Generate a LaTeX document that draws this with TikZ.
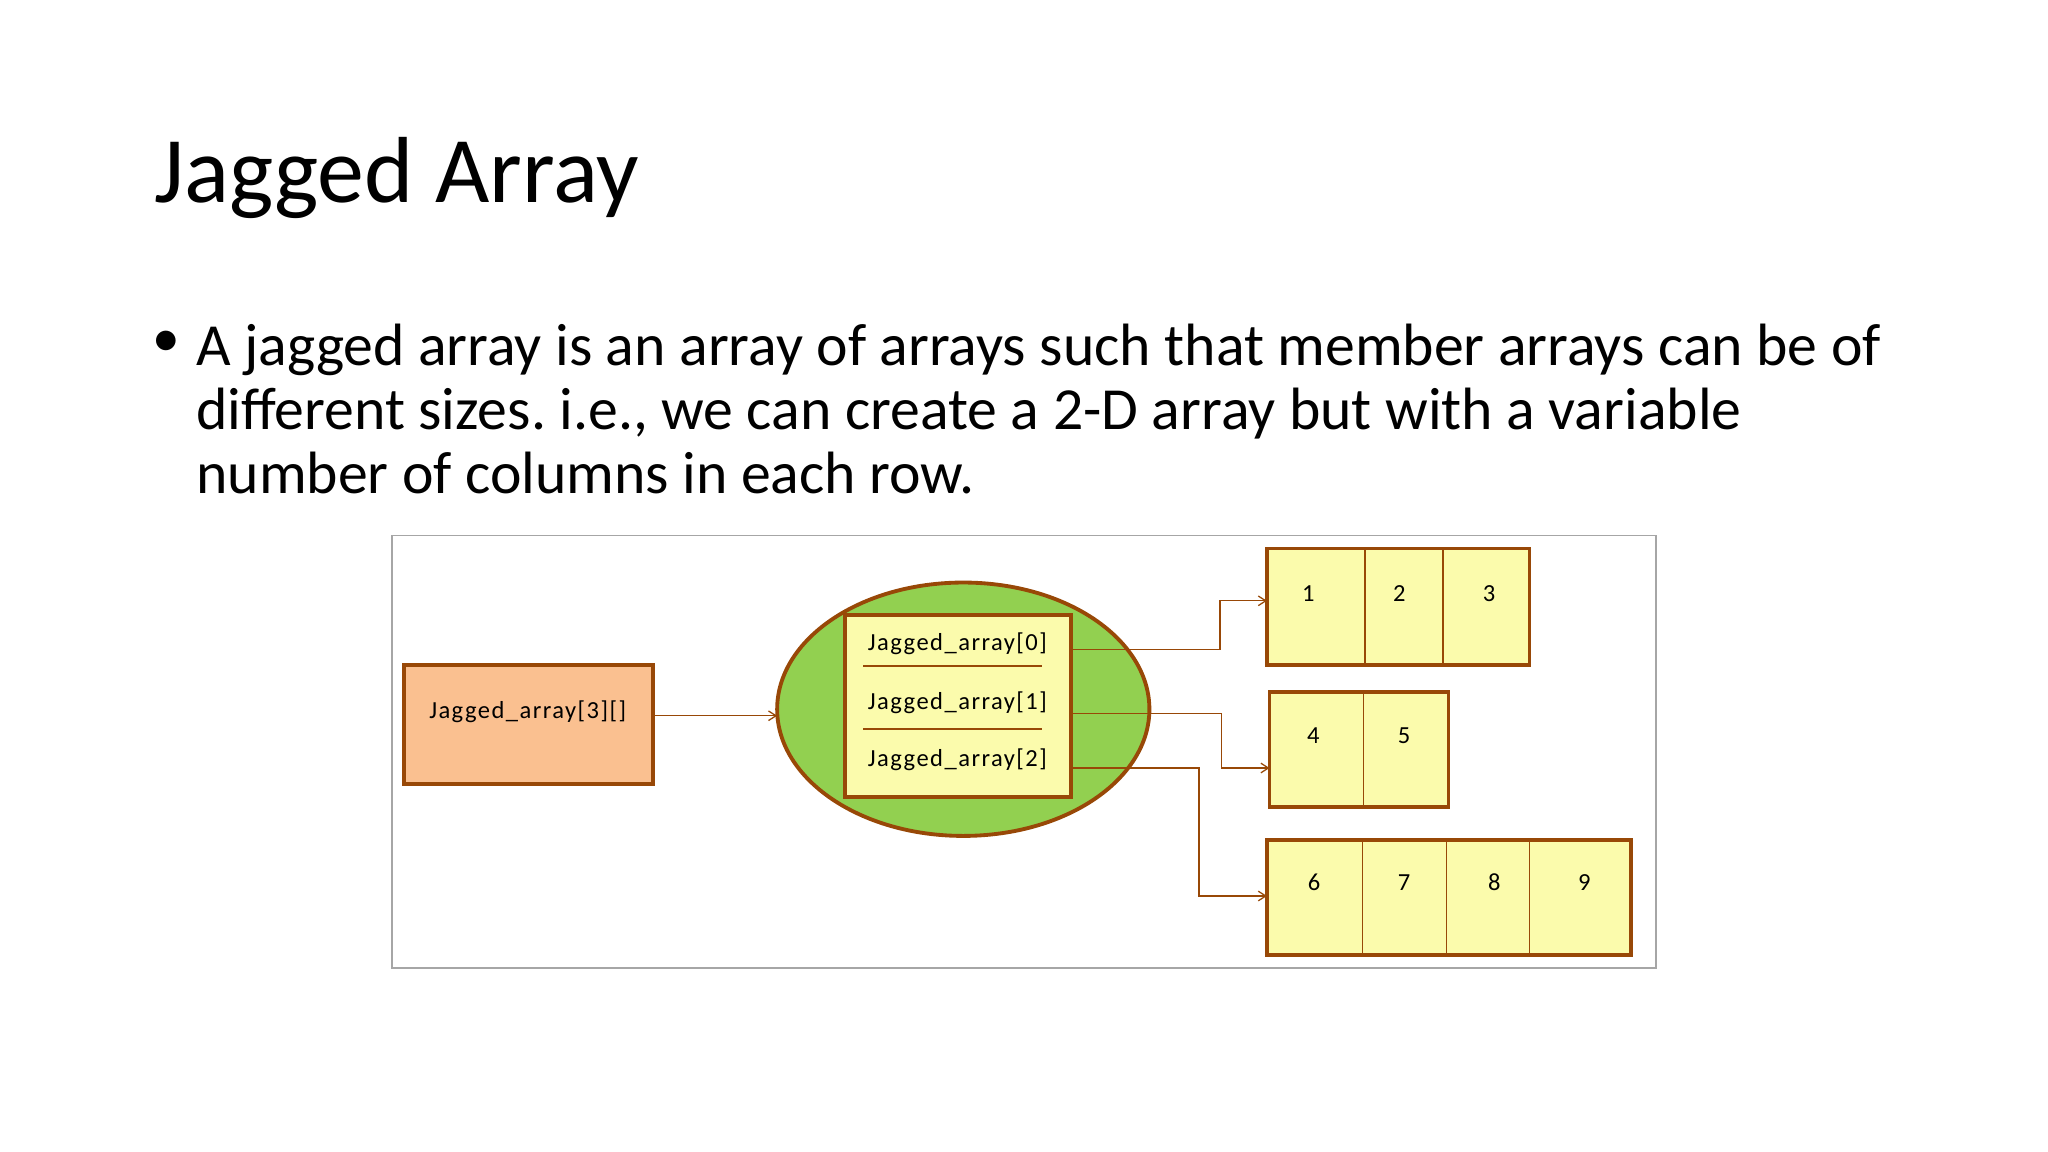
\documentclass[tikz,border=0pt]{standalone}
\usepackage{fontspec}
\setmainfont{Carlito}
\newfontfamily\diagfont[LetterSpace=6]{Carlito}
\usetikzlibrary{shapes.geometric,arrows.meta,calc}
\definecolor{brown}{RGB}{152,72,7}
\definecolor{peach}{RGB}{250,192,144}
\definecolor{leaf}{RGB}{146,208,80}
\definecolor{paleyellow}{RGB}{251,251,172}
\definecolor{framegray}{RGB}{166,166,166}
\frenchspacing
\begin{document}
\begin{tikzpicture}[x=0.6122pt,y=-0.6122pt,
  wh/.style 2 args={minimum width=#1*0.6122pt, minimum height=#2*0.6122pt},
  boxed/.style={draw=brown, line width=1.8pt, inner sep=0pt, outer sep=0pt},
  lbl/.style={font=\diagfont\fontsize{11.5}{13}\selectfont, inner sep=0pt, anchor=base},
  num/.style={font=\fontsize{11.5}{13}\selectfont, inner sep=0pt, anchor=base},
  divider/.style={draw=brown, line width=0.75pt},
  conn/.style={draw=brown, line width=0.6pt},
  tip/.style={conn, -{Straight Barb[length=3.5pt,width=4.5pt,line width=0.6pt]}},
]
\useasboundingbox (0,0) rectangle (1568,882);
\fill[white] (0,0) rectangle (1568,882);

% title and text
\node[anchor=base west, inner sep=0pt, font=\fontsize{44}{50}\selectfont] (title) at (118,155) {Jagged Array};
\node[anchor=center, inner sep=0pt, font=\fontsize{26}{30}\selectfont] (bullet) at (127.6,262.9) {•};
\node[anchor=base west, inner sep=0pt, font=\fontsize{28}{30}\selectfont] (l1) at (150,279.5) {A jagged array is an array of arrays such that member arrays can be of};
\node[anchor=base west, inner sep=0pt, font=\fontsize{28}{30}\selectfont] (l2) at (150,328.7) {different sizes. i.e., we can create a 2-D array but with a variable};
\node[anchor=base west, inner sep=0pt, font=\fontsize{28}{30}\selectfont] (l3) at (150,377.7) {number of columns in each row.};

% picture frame
\draw[framegray, line width=0.9pt] (300,410) rectangle (1268,741);

% orange box
\node[boxed, fill=peach, wh={191}{91}] (outer) at (404.5,554.5) {};
\node[lbl] (outertxt) at (404,550) {Jagged\_array[3][]};

% ellipse
\node[ellipse, draw=brown, line width=1.8pt, fill=leaf, outer sep=0pt, inner sep=0pt, wh={285}{194}] (ell) at (737.5,543) {};

% inner box
\node[boxed, fill=paleyellow, wh={173}{139}] (inner) at (733.5,540.5) {};
\node[lbl] (r0) at (733,498) {Jagged\_array[0]};
\node[lbl] (r1) at (733,543) {Jagged\_array[1]};
\node[lbl] (r2) at (733,587) {Jagged\_array[2]};
\draw[divider] ($(inner.north west)+(14,39)$) -- ($(inner.north east)+(-22,39)$);
\draw[divider] ($(inner.north west)+(14,87)$) -- ($(inner.north east)+(-22,87)$);

% row boxes
\node[boxed, fill=paleyellow, wh={201}{89}] (a0) at (1070.5,464.5) {};
\draw[divider] ($(a0.north west)+(75,0)$) -- ($(a0.south west)+(75,0)$);
\draw[divider] ($(a0.north west)+(135,0)$) -- ($(a0.south west)+(135,0)$);
\node[num] (n1) at (1001.7,460.6) {1};
\node[num] (n2) at (1071.4,460.6) {2};
\node[num] (n3) at (1140,460.6) {3};

\node[boxed, fill=paleyellow, wh={137}{88}] (a1) at (1040.5,574) {};
\draw[divider] ($(a1.north west)+(72,0)$) -- ($(a1.south west)+(72,0)$);
\node[num] (n4) at (1005.5,569) {4};
\node[num] (n5) at (1075,569) {5};

\node[boxed, fill=paleyellow, wh={279}{88}] (a2) at (1109.5,687) {};
\draw[divider] ($(a2.north west)+(73,0)$) -- ($(a2.south west)+(73,0)$);
\draw[divider] ($(a2.north west)+(137.5,0)$) -- ($(a2.south west)+(137.5,0)$);
\draw[divider] ($(a2.north west)+(201,0)$) -- ($(a2.south west)+(201,0)$);
\node[num] (n6) at (1006,682) {6};
\node[num] (n7) at (1075,682) {7};
\node[num] (n8) at (1144,682) {8};
\node[num] (n9) at (1213,682) {9};

% connectors
\coordinate (sIn) at ($(outer.north east)+(0,39)$);
\draw[tip] (sIn) -- (sIn -| ell.west);

\coordinate (s0) at ($(inner.north east)+(0,26)$);
\coordinate (k0) at ($(a0.north west)+(-36,40)$);
\coordinate (e0) at ($(a0.north west)+(0,40)$);
\draw[tip] (s0) -| (k0) -- (e0);

\coordinate (s1) at ($(inner.north east)+(0,75)$);
\coordinate (k1) at ($(a1.north west)+(-37,58)$);
\coordinate (e1) at ($(a1.north west)+(0,58)$);
\draw[tip] (s1) -| (k1) -- (e1);

\coordinate (s2) at ($(inner.north east)+(0,117)$);
\coordinate (k2) at ($(a2.north west)+(-52,43)$);
\coordinate (e2) at ($(a2.north west)+(0,43)$);
\draw[tip] (s2) -| (k2) -- (e2);
\end{tikzpicture}
\end{document}
